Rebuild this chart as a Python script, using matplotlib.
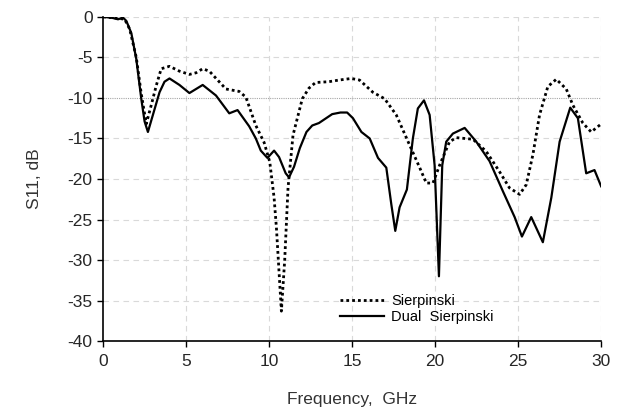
import matplotlib
matplotlib.use('Agg')
import matplotlib.pyplot as plt

plt.rcParams['font.family'] = ['Liberation Sans Narrow', 'Liberation Sans', 'DejaVu Sans']
plt.rcParams['axes.unicode_minus'] = False

# Sierpinski (dotted)
freq_s = [0, 0.5, 1.0, 1.3, 1.6, 2.0, 2.3, 2.6, 2.9, 3.2, 3.5, 4.0, 4.6, 5.2, 5.6, 6.0,
          6.4, 6.9, 7.4, 8.2, 8.6, 9.2, 9.7, 10.04, 10.3, 10.44, 10.74, 10.94, 11.14,
          11.44, 12.0, 12.4, 12.8, 13.6, 14.2, 14.95, 15.45, 16.25, 16.96, 17.66, 18.46,
          19.07, 19.47, 19.87, 20.27, 20.87, 21.28, 22.28, 23.08, 23.88, 24.48, 25.09,
          25.49, 25.89, 26.29, 26.79, 27.3, 27.9, 28.3, 28.9, 29.4, 29.95]
s11_s = [0, -0.1, -0.2, -0.3, -1.5, -5.0, -9.5, -13.2, -10.9, -8.5, -6.4, -6.1, -6.7,
         -7.1, -6.9, -6.4, -6.7, -7.8, -8.9, -9.2, -9.9, -13.4, -15.5, -17.9, -22.3,
         -26.0, -36.3, -30.0, -21.1, -14.6, -10.1, -8.8, -8.1, -8.0, -7.8, -7.6, -7.8,
         -9.3, -10.1, -12.1, -15.8, -18.6, -20.5, -20.5, -18.3, -15.4, -14.9, -15.1,
         -16.6, -19.1, -21.1, -21.9, -20.7, -17.0, -12.1, -8.6, -7.7, -8.9, -10.9,
         -13.1, -14.2, -13.3]

# Dual Sierpinski (solid)
freq_d = [0, 0.5, 0.9, 1.2, 1.4, 1.7, 2.0, 2.3, 2.5, 2.7, 3.0, 3.4, 3.7, 4.0, 4.6, 5.2,
          6.0, 6.8, 7.6, 8.1, 8.8, 9.2, 9.5, 9.9, 10.3, 10.6, 11.0, 11.2, 11.5, 11.85,
          12.25, 12.6, 13.0, 13.8, 14.3, 14.7, 15.05, 15.56, 16.06, 16.56, 17.06, 17.36,
          17.6, 17.86, 18.3, 18.66, 18.96, 19.33, 19.67, 19.97, 20.23, 20.43, 20.67,
          21.07, 21.78, 22.48, 23.28, 24.08, 24.79, 25.23, 25.79, 26.49, 27.0, 27.5,
          28.14, 28.6, 29.1, 29.6, 30.0]
s11_d = [0, -0.1, -0.3, -0.1, -0.5, -2.0, -5.2, -10.1, -12.9, -14.2, -12.1, -9.3, -8.0,
         -7.6, -8.4, -9.4, -8.4, -9.7, -11.9, -11.5, -13.5, -15.0, -16.5, -17.4, -16.5,
         -17.3, -19.3, -19.8, -18.5, -16.2, -14.2, -13.4, -13.1, -12.0, -11.8, -11.8,
         -12.5, -14.2, -15.0, -17.4, -18.6, -23.1, -26.4, -23.5, -21.3, -15.0, -11.3,
         -10.3, -12.1, -18.3, -32.0, -18.3, -15.4, -14.4, -13.7, -15.4, -17.8, -21.5,
         -24.7, -27.1, -24.7, -27.8, -22.3, -15.4, -11.2, -12.5, -19.3, -18.9, -20.9]

xticks = [0, 5, 10, 15, 20, 25, 30]
yticks = [0, -5, -10, -15, -20, -25, -30, -35, -40]

fig = plt.figure(figsize=(6.21, 4.11), dpi=100)
ax = fig.add_axes([0.166, 0.170, 0.802, 0.789])

for x in xticks[1:]:
    ax.axvline(x, color='#d9d9d9', lw=0.8, ls=(0, (5, 4)), zorder=0)
for y in yticks[:-1]:
    if y == -10:
        ax.axhline(y, color='#a6a6a6', lw=0.8, ls=(0, (1, 1)), zorder=0)
    else:
        ax.axhline(y, color='#d9d9d9', lw=0.8, ls=(0, (5, 4)), zorder=0)

ax.plot(freq_s, s11_s, color='black', lw=2.0, ls=(0, (1, 1.1)), label='Sierpinski')
ax.plot(freq_d, s11_d, color='black', lw=1.6, label='Dual  Sierpinski')

ax.set_xlim(0, 30)
ax.set_ylim(-40, 0)
ax.set_xticks(xticks)
ax.set_yticks(yticks)
ax.tick_params(labelsize=12.5, length=4, width=1, colors='black', labelcolor='#262626')
ax.tick_params(axis='x', pad=5)
for s in ['top', 'right']:
    ax.spines[s].set_visible(False)
ax.spines['left'].set_linewidth(1.2)
ax.spines['bottom'].set_linewidth(1.2)

ax.set_xlabel('Frequency,  GHz', fontsize=12.5, color='#333333', labelpad=17)
ax.set_ylabel('S11, dB', fontsize=12.5, color='#333333', labelpad=18)

ax.legend(loc='lower left', bbox_to_anchor=(0.455, 0.02), frameon=False, fontsize=10.5,
          handlelength=3.0, handletextpad=0.5, labelspacing=0.15, borderpad=0.2)

fig.savefig('out.png')
